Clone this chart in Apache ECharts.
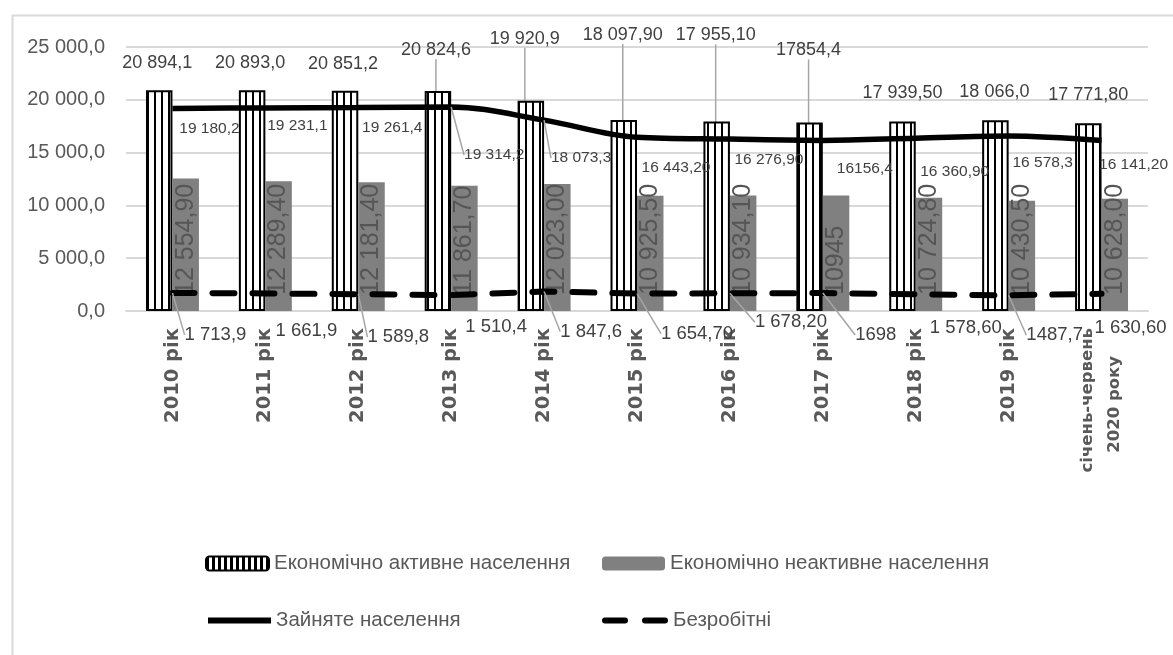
<!DOCTYPE html>
<html>
<head>
<meta charset="utf-8">
<script src="https://cdn.jsdelivr.net/npm/echarts@6/dist/echarts.min.js"></script>
<style>
  html, body { margin: 0; padding: 0; background: #ffffff; }
  #chart { width: 1173px; height: 655px; }
</style>
</head>
<body>
<div id="chart"></div>
<script>
// ---- data -------------------------------------------------------------
const categories = ['2010 рік', '2011 рік', '2012 рік', '2013 рік', '2014 рік', '2015 рік',
  '2016 рік', '2017 рік', '2018 рік', '2019 рік', 'січень-червень\n2020 року'];
const yTickLabels = ['0,0', '5 000,0', '10 000,0', '15 000,0', '20 000,0', '25 000,0'];

const activePop = [20894.1, 20893.0, 20851.2, 20824.6, 19920.9, 18097.9, 17955.1, 17854.4, 17939.5, 18066.0, 17771.8];
const activeText = ['20 894,1', '20 893,0', '20 851,2', '20 824,6', '19 920,9', '18 097,90', '17 955,10', '17854,4', '17 939,50', '18 066,0', '17 771,80'];

const inactivePop = [12554.9, 12289.4, 12181.4, 11861.7, 12023.0, 10925.5, 10934.1, 10945, 10724.8, 10430.5, 10628.0];
const inactiveText = ['12 554,90', '12 289,40', '12 181,40', '11 861,70', '12 023,00', '10 925,50', '10 934,10', '10945', '10 724,80', '10 430,50', '10 628,00'];

const employedPop = [19180.2, 19231.1, 19261.4, 19314.2, 18073.3, 16443.2, 16276.9, 16156.4, 16360.9, 16578.3, 16141.2];
const employedText = ['19 180,2', '19 231,1', '19 261,4', '19 314,2', '18 073,3', '16 443,20', '16 276,90', '16156,4', '16 360,90', '16 578,3', '16 141,20'];

const unemployedPop = [1713.9, 1661.9, 1589.8, 1510.4, 1847.6, 1654.7, 1678.2, 1698, 1578.6, 1487.7, 1630.6];
const unemployedText = ['1 713,9', '1 661,9', '1 589,8', '1 510,4', '1 847,6', '1 654,70', '1 678,20', '1698', '1 578,60', '1487,7', '1 630,60'];

const seriesNames = ['Економічно активне населення', 'Економічно неактивне населення', 'Зайняте населення', 'Безробітні'];

// ---- label placement (shift of each label centre from its mark) -------
const activeShift = [[-2, -27], [-2, -27], [-2, -27], [-2, -41], [-6, -62], [-1, -85], [-1, -86], [-1, -72], [0, -29], [-1, -28], [0, -28]];
const activeLeaders = [3, 4, 5, 6, 7];
const employedShift = [[37, 20], [32, 18], [34, 20], [43, 48], [37, 38], [39, 30], [39, 21], [42, 28], [39, 33], [34, 27], [32, 24]];
const employedLeaders = [3, 4];
const unemployedShift = [[43, 42], [41, 37], [40, 43], [45, 32], [47, 40], [60, 40], [61, 29], [53, 42], [50, 34], [46, 40], [29, 34]];
const unemployedLeaders = [0, 2, 4, 5, 6, 7, 9];

// ---- styles -----------------------------------------------------------
const sans = "'Liberation Sans', 'Arimo', 'DejaVu Sans Condensed', sans-serif";
const labelGray = '#404040';
const axisGray = '#595959';
const guide = { lineStyle: { color: '#a6a6a6', width: 1.5 } };

function stripes(period, line, fg, bg) {
  const c = document.createElement('canvas');
  c.width = period; c.height = 4;
  const g = c.getContext('2d');
  g.fillStyle = bg; g.fillRect(0, 0, period, 4);
  g.fillStyle = fg; g.fillRect(0, 0, line, 4);
  return c;
}
const barPattern = { image: stripes(7, 2, '#000000', '#ffffff'), repeat: 'repeat' };
const legendPattern = { image: stripes(6, 3, '#000000', '#ffffff'), repeat: 'repeat' };

function withLeaders(values, leaders) {
  return values.map((v, i) => ({ value: v, labelLine: { show: leaders.indexOf(i) >= 0 } }));
}
function shifter(shift) {
  return p => ({ dx: shift[p.dataIndex][0], dy: shift[p.dataIndex][1] });
}

const legendText = { color: axisGray, fontSize: 20.5, fontFamily: sans };
function legendAt(item, left, top) {
  return {
    data: [item], left: left, top: top, padding: 0, itemWidth: 63, itemHeight: 14, itemGap: 7,
    textStyle: legendText, selectedMode: false
  };
}

// category labels: a two-line label is set a little smaller, its second line nudged down
const catFont = { color: axisGray, fontWeight: 'bold', fontFamily: "'DejaVu Sans', sans-serif" };
function categoryLabel(v) {
  const parts = v.split('\n');
  return parts.length > 1 ? '{a|' + parts[0] + '}\n{b|' + parts[1] + '}' : v;
}

const chart = echarts.init(document.getElementById('chart'), null, { renderer: 'canvas' });
chart.setOption({
  animation: false,
  backgroundColor: '#ffffff',
  graphic: [{
    type: 'rect', left: 10, top: 13, silent: true, z: -10,
    shape: { width: 1200, height: 700 },
    style: { fill: 'none', stroke: '#d9d9d9', lineWidth: 2 }
  }],
  grid: { left: 126, right: 25, top: 47, bottom: 344 },
  legend: [
    legendAt({ name: seriesNames[0], itemStyle: { color: legendPattern, borderColor: '#000', borderWidth: 2 } }, 205, 553),
    legendAt({ name: seriesNames[1] }, 602, 553),
    legendAt({ name: seriesNames[2], itemStyle: { opacity: 0 }, lineStyle: { color: '#000', width: 6 } }, 205, 610),
    legendAt({ name: seriesNames[3], itemStyle: { opacity: 0 }, lineStyle: { color: '#000', width: 6, type: [20, 20], cap: 'round' } }, 602, 610)
  ],
  xAxis: {
    type: 'category',
    data: categories,
    axisLine: { lineStyle: { color: '#d9d9d9', width: 2 } },
    axisTick: { show: false },
    axisLabel: Object.assign({
      interval: 0, rotate: 90, margin: 17, fontSize: 19.5, lineHeight: 27,
      formatter: categoryLabel,
      rich: {
        a: Object.assign({ fontSize: 16.5, lineHeight: 27 }, catFont),
        b: Object.assign({ fontSize: 16.5, lineHeight: 27, padding: [0, 28, 0, 0] }, catFont)
      }
    }, catFont)
  },
  yAxis: {
    type: 'value', min: 0, max: 25000, interval: 5000,
    axisLine: { show: false },
    axisTick: { show: false },
    splitLine: { lineStyle: { color: '#d9d9d9', width: 2 } },
    axisLabel: {
      margin: 21, color: axisGray, fontSize: 20, fontFamily: sans,
      formatter: v => yTickLabels[Math.round(v / 5000)]
    }
  },
  series: [
    {
      name: seriesNames[0], type: 'bar', barWidth: '28.5%', barGap: '0%',
      data: withLeaders(activePop, activeLeaders),
      itemStyle: { color: barPattern, borderColor: '#000000', borderWidth: 2 },
      label: {
        show: true, position: 'top', distance: 0, verticalAlign: 'middle', align: 'center',
        color: labelGray, fontSize: 18, fontFamily: sans,
        formatter: p => activeText[p.dataIndex]
      },
      labelLine: guide,
      labelLayout: shifter(activeShift)
    },
    {
      name: seriesNames[1], type: 'bar', barWidth: '28.5%', barGap: '0%',
      data: inactivePop,
      itemStyle: { color: '#808080' },
      label: {
        show: true, position: 'insideBottom', rotate: 90, align: 'left', verticalAlign: 'middle',
        distance: 16, color: '#555555', fontSize: 25, fontFamily: sans,
        formatter: p => inactiveText[p.dataIndex]
      }
    },
    {
      name: seriesNames[2], type: 'line', z: 3, smooth: 0.35,
      symbol: 'circle', symbolSize: 0,
      data: withLeaders(employedPop, employedLeaders),
      lineStyle: { color: '#000000', width: 5.5 },
      itemStyle: { color: '#000000' },
      label: {
        show: true, position: 'top', distance: 0, verticalAlign: 'middle', align: 'center',
        color: labelGray, fontSize: 15.5, fontFamily: sans,
        formatter: p => employedText[p.dataIndex]
      },
      labelLine: guide,
      labelLayout: shifter(employedShift)
    },
    {
      name: seriesNames[3], type: 'line', z: 3,
      symbol: 'circle', symbolSize: 0,
      data: withLeaders(unemployedPop, unemployedLeaders),
      lineStyle: { color: '#000000', width: 6, type: [22, 18], cap: 'round' },
      itemStyle: { color: '#000000' },
      label: {
        show: true, position: 'top', distance: 0, verticalAlign: 'middle', align: 'center',
        color: labelGray, fontSize: 18.5, fontFamily: sans,
        formatter: p => unemployedText[p.dataIndex]
      },
      labelLine: guide,
      labelLayout: shifter(unemployedShift)
    }
  ]
});
</script>
</body>
</html>
